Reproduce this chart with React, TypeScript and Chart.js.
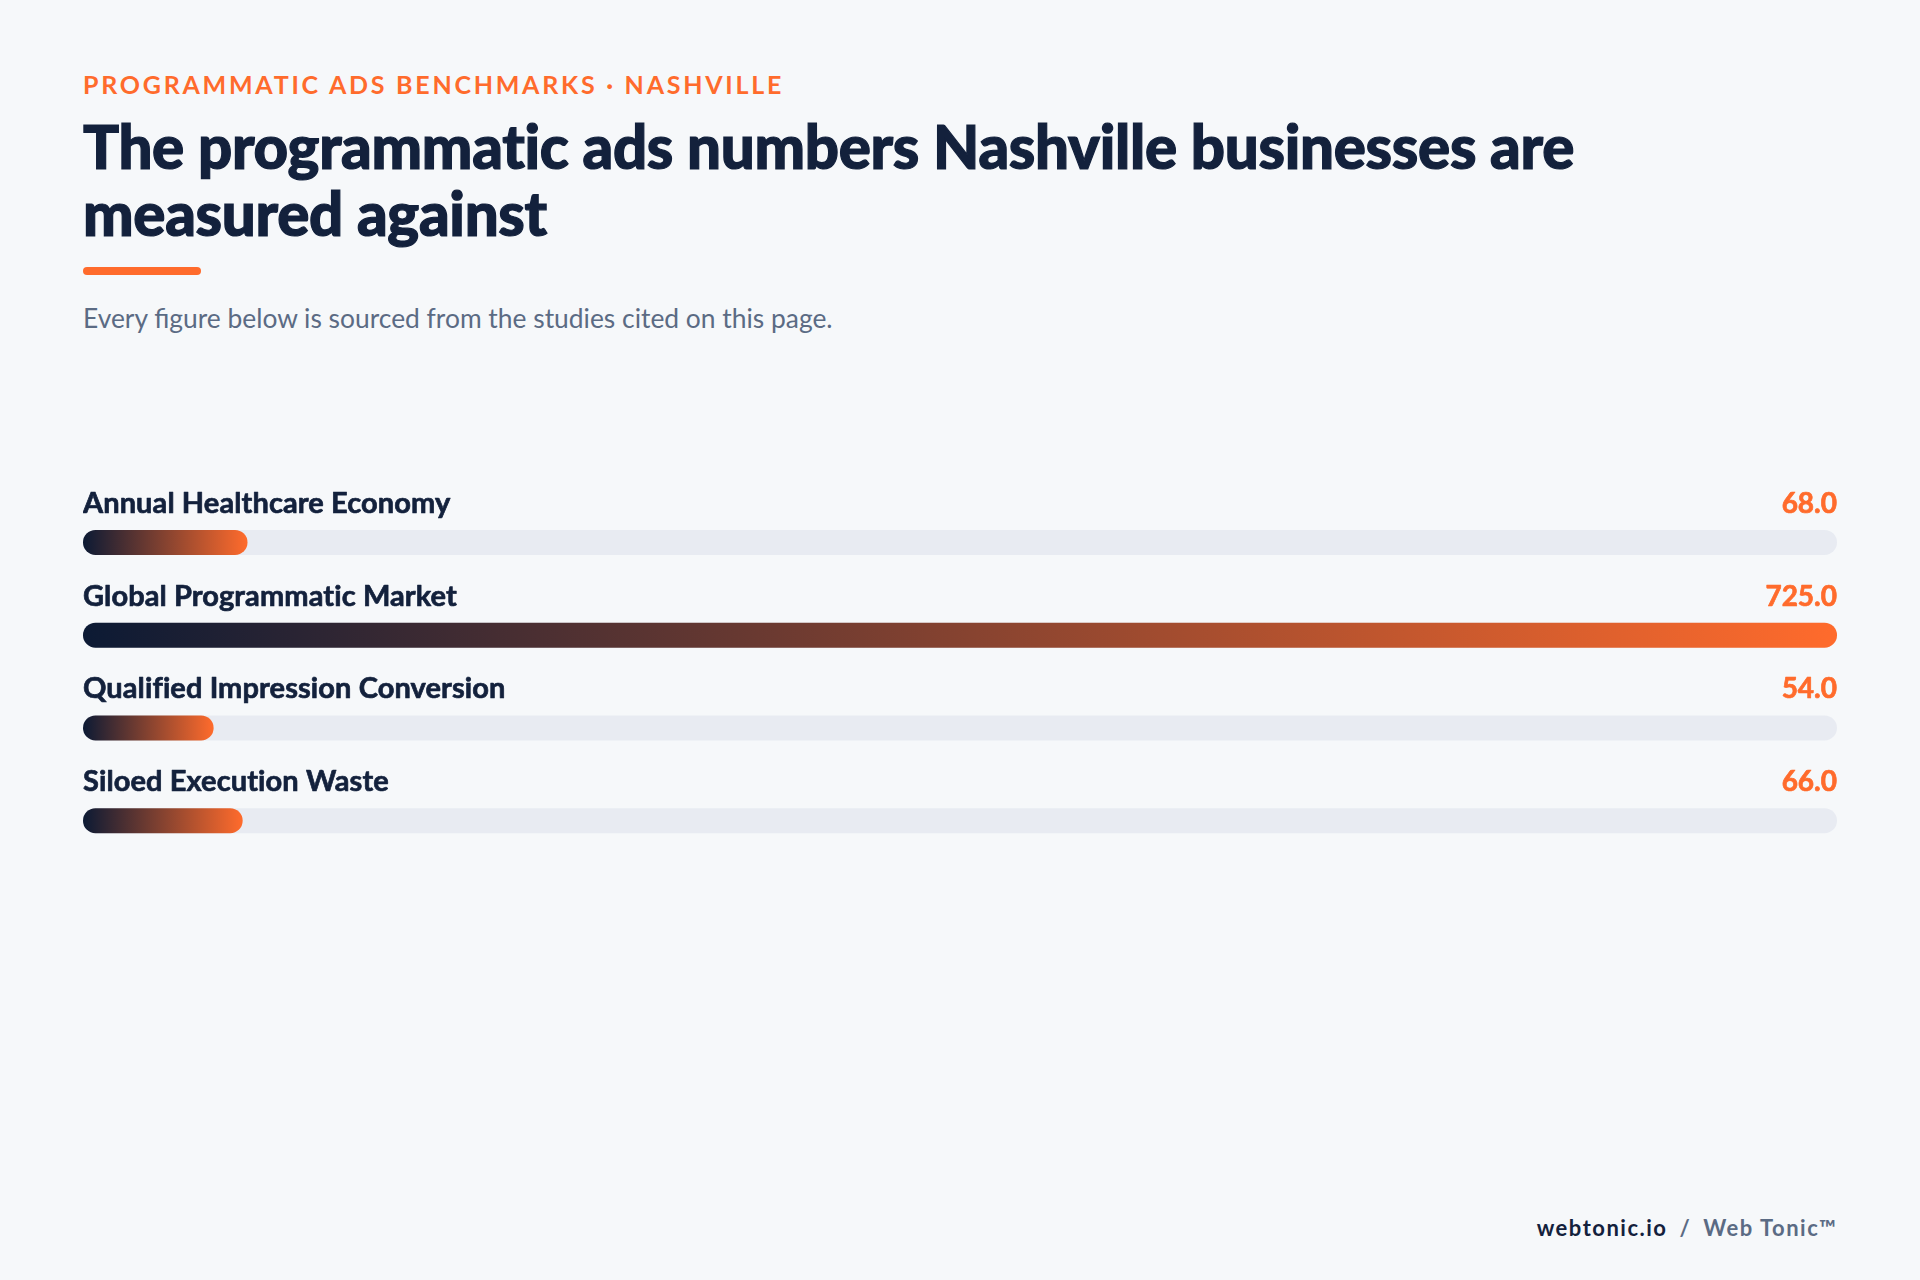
import React, { useEffect, useRef } from "react";
import { Chart, registerables } from "chart.js";

Chart.register(...registerables);

const categories = [
  "Annual Healthcare Economy",
  "Global Programmatic Market",
  "Qualified Impression Conversion",
  "Siloed Execution Waste",
];
const values = [68, 725, 54, 66];
const valueLabels = ["68.0", "725.0", "54.0", "66.0"];
const scaleMax = 725;

const NAVY = "#13213c";
const NAVY_DEEP = "#0c1a34";
const ORANGE = "#ff6b2c";
const TRACK = "#e8ebf2";
const BG = "#f6f8fa";
const SLATE = "#5b6b84";
const FONT = "Lato, 'Noto Sans', sans-serif";

const trackPlugin = {
  id: "trackPlugin",
  beforeDatasetsDraw(chart: any) {
    const { ctx, chartArea } = chart;
    const meta = chart.getDatasetMeta(0);
    ctx.save();
    ctx.fillStyle = TRACK;
    meta.data.forEach((bar: any) => {
      const h = bar.height;
      const y = bar.y - h / 2;
      ctx.beginPath();
      ctx.roundRect(chartArea.left, y, chartArea.right - chartArea.left, h, h / 2);
      ctx.fill();
    });
    ctx.restore();
  },
  afterDatasetsDraw(chart: any) {
    const { ctx, chartArea } = chart;
    const meta = chart.getDatasetMeta(0);
    ctx.save();
    ctx.textBaseline = "alphabetic";
    ctx.lineJoin = "round";
    ctx.lineWidth = 0.7;
    meta.data.forEach((bar: any, i: number) => {
      const base = bar.y - bar.height / 2 - 17;
      ctx.font = `700 29px ${FONT}`;
      try {
        (ctx as any).letterSpacing = "0.1px";
      } catch (e) {}
      ctx.fillStyle = NAVY;
      ctx.strokeStyle = NAVY;
      ctx.textAlign = "left";
      ctx.fillText(categories[i], chartArea.left, base);
      ctx.strokeText(categories[i], chartArea.left, base);
      ctx.font = `700 28px ${FONT}`;
      try {
        (ctx as any).letterSpacing = "0px";
      } catch (e) {}
      ctx.fillStyle = ORANGE;
      ctx.strokeStyle = ORANGE;
      ctx.textAlign = "right";
      ctx.fillText(valueLabels[i], chartArea.right, base);
      ctx.strokeText(valueLabels[i], chartArea.right, base);
    });
    ctx.restore();
  },
};

function BarsChart() {
  const ref = useRef<HTMLCanvasElement | null>(null);
  useEffect(() => {
    if (!ref.current) return;
    const chart = new Chart(ref.current, {
      type: "bar",
      data: {
        labels: categories,
        datasets: [
          {
            data: values,
            backgroundColor: (c: any) => {
              const ch = c.chart;
              const xs = ch.scales && ch.scales.x;
              if (!xs || c.type !== "data") return ORANGE;
              const x0 = xs.getPixelForValue(0);
              const x1 = xs.getPixelForValue(values[c.dataIndex]);
              if (!isFinite(x0) || !isFinite(x1)) return ORANGE;
              const g = ch.ctx.createLinearGradient(x0, 0, Math.max(x1, x0 + 1), 0);
              g.addColorStop(0, NAVY_DEEP);
              g.addColorStop(1, ORANGE);
              return g;
            },
            borderRadius: 12.5,
            borderSkipped: false,
            barThickness: 25,
            inflateAmount: 0,
          } as any,
        ],
      },
      options: {
        indexAxis: "y",
        animation: false,
        responsive: false,
        maintainAspectRatio: false,
        layout: { padding: { top: 26, bottom: 23, left: 0, right: 0 } },
        plugins: {
          legend: { display: false },
          tooltip: { enabled: false },
          title: { display: false },
        },
        scales: {
          x: { type: "linear", min: 0, max: scaleMax, display: false },
          y: { type: "category", display: false, offset: true },
        },
      },
      plugins: [trackPlugin],
    });
    return () => chart.destroy();
  }, []);
  return (
    <canvas
      ref={ref}
      width={1754}
      height={420}
      style={{ position: "absolute", left: 83, top: 470, width: 1754, height: 420 }}
    />
  );
}

export default function App() {
  return (
    <div
      style={{
        position: "fixed",
        left: 0,
        top: 0,
        width: 1920,
        height: 1280,
        background: BG,
        fontFamily: FONT,
        overflow: "hidden",
      }}
    >
      <div
        style={{
          position: "absolute",
          left: 83,
          top: 72,
          fontSize: 25,
          lineHeight: "25px",
          fontWeight: 700,
          letterSpacing: 2.75,
          color: ORANGE,
          whiteSpace: "nowrap",
        }}
      >
        PROGRAMMATIC ADS BENCHMARKS · NASHVILLE
      </div>
      <div
        style={{
          position: "absolute",
          left: 83,
          top: 113,
          width: 1700,
          fontSize: 60,
          lineHeight: "67px",
          fontWeight: 900,
          letterSpacing: -0.3,
          color: NAVY,
          whiteSpace: "nowrap",
          WebkitTextStroke: `1.2px ${NAVY}`,
        }}
      >
        The programmatic ads numbers Nashville businesses are
        <br />
        measured against
      </div>
      <div
        style={{
          position: "absolute",
          left: 83,
          top: 267,
          width: 118,
          height: 8,
          borderRadius: 4,
          background: ORANGE,
        }}
      />
      <div
        style={{
          position: "absolute",
          left: 83,
          top: 305,
          fontSize: 26.4,
          lineHeight: "26px",
          fontWeight: 400,
          color: SLATE,
          whiteSpace: "nowrap",
        }}
      >
        Every figure below is sourced from the studies cited on this page.
      </div>
      <BarsChart />
      <div
        style={{
          position: "absolute",
          right: 83,
          top: 1217,
          fontSize: 22,
          lineHeight: "22px",
          fontWeight: 700,
          letterSpacing: 1.5,
          whiteSpace: "nowrap",
        }}
      >
        <span style={{ color: NAVY }}>webtonic.io</span>
        <span style={{ color: SLATE, margin: "0 12px" }}>/</span>
        <span style={{ color: SLATE }}>Web Tonic™</span>
      </div>
    </div>
  );
}
